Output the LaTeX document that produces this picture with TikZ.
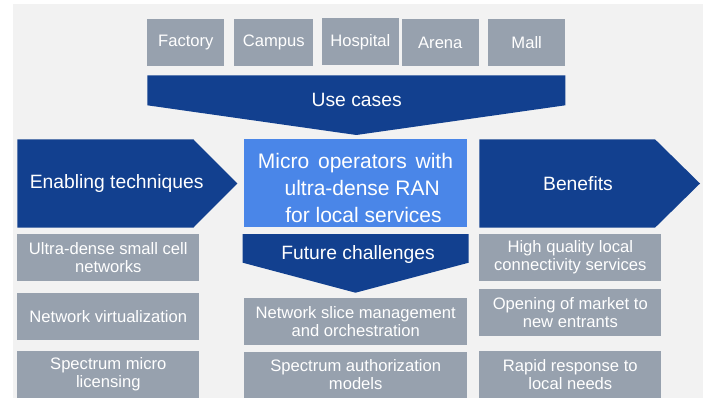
\documentclass[tikz,border=0pt]{standalone}
\usepackage{fontspec}
\setmainfont{Liberation Sans}
\definecolor{bgc}{HTML}{F2F2F2}
\definecolor{boxgray}{HTML}{97A1AE}
\definecolor{darkblue}{HTML}{12408F}
\definecolor{lightblue}{HTML}{4A86E8}
\newcommand\mywidespaces{\spaceskip=0.42em\relax}
\tikzset{
  gbox/.style={fill=boxgray, text=white, align=center, inner sep=0pt, draw=none,
    font=\fontsize{16.6}{18}\selectfont},
  bluelabel/.style={text=white, inner sep=0pt, font=\fontsize{19.3}{22}\selectfont},
  darkshape/.style={fill=darkblue, draw=none}
}
\begin{document}
\begin{tikzpicture}[x=1pt,y=-1pt]
\useasboundingbox (0,0) rectangle (708,398);
\fill[bgc] (13,4) rectangle (703,398);

% top use cases
\node[gbox, minimum width=77pt, minimum height=47pt] (factory) at (185.8,43) {Factory};
\node[gbox, minimum width=79.3pt, minimum height=47pt] (campus) at (273.7,42.5) {Campus};
\node[gbox, minimum width=76.7pt, minimum height=47pt] (hospital) at (360.3,42) {Hospital};
\node[gbox, minimum width=76.7pt, minimum height=47pt] (arena) at (440.3,42.5) {Arena};
\node[gbox, minimum width=77.3pt, minimum height=47pt] (mall) at (526.7,42.5) {Mall};

% use cases chevron
\fill[darkshape] (147.3,75.3) -- (565.3,75.3) -- (565.3,105.3) -- (356.3,135) -- (147.3,105.3) -- cycle;
\node[bluelabel] (usecases) at (356.7,99.5) {Use cases};

% enabling techniques arrow
\fill[darkshape] (17.3,139.3) -- (193.3,139.3) -- (237.3,183.5) -- (193.3,227.7) -- (17.3,227.7) -- cycle;
\node[bluelabel] (enabling) at (116.7,184) {Enabling techniques};

% benefits arrow
\fill[darkshape] (479.3,139.3) -- (655,139.3) -- (700,183.5) -- (655,227.7) -- (479.3,227.7) -- cycle;
\node[bluelabel] (benefits) at (578,184) {Benefits};

% central box
\node[fill=lightblue, minimum width=223.3pt, minimum height=88pt, inner sep=0pt] (micro) at (355.7,183.3) {};
\node[text=white, align=left, inner sep=0pt, font=\fontsize{21}{27}\selectfont] (microtext) at (355.5,188)
  {\mywidespaces Micro operators with\\\hspace*{26.6pt}ultra-dense RAN\\\hspace*{27.3pt}for local services};

% future challenges chevron
\fill[darkshape] (242.7,234) -- (468.7,234) -- (468.7,262.7) -- (355.5,292.7) -- (242.7,262.7) -- cycle;
\node[bluelabel] (future) at (358,254.5) {Future challenges};

% left column
\node[gbox, minimum width=182pt, minimum height=46.7pt] (ultra) at (108.3,257.7) {Ultra-dense small cell\\networks};
\node[gbox, minimum width=182pt, minimum height=47.3pt] (netvirt) at (108.3,316.3) {Network virtualization};
\node[gbox, minimum width=182pt, minimum height=47pt] (specmicro) at (108.3,374.5) {Spectrum micro\\licensing};

% middle column
\node[gbox, minimum width=223.3pt, minimum height=47pt] (slice) at (355.7,321.5) {Network slice management\\and orchestration};
\node[gbox, minimum width=223.3pt, minimum height=47pt] (specauth) at (355.7,375) {Spectrum authorization\\models};

% right column
\node[gbox, minimum width=182pt, minimum height=46.7pt] (highq) at (570.3,257.7) {High quality local\\connectivity services};
\node[gbox, minimum width=182pt, minimum height=47pt] (opening) at (570.3,312.5) {Opening of market to\\new entrants};
\node[gbox, minimum width=182pt, minimum height=47pt] (rapid) at (570.3,374.5) {Rapid response to\\local needs};
\end{tikzpicture}
\end{document}
